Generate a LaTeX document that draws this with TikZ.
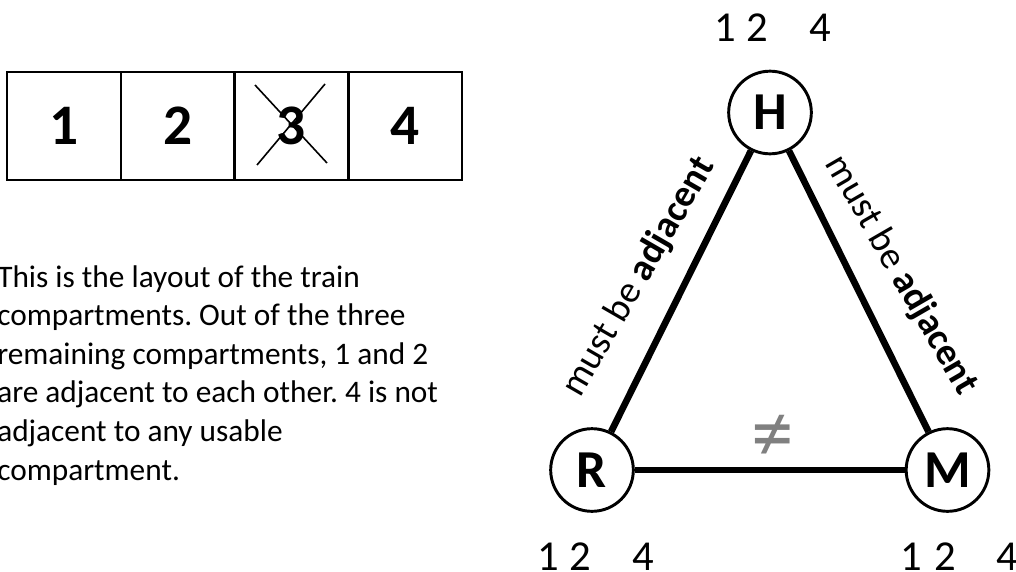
\documentclass[tikz,border=0pt]{standalone}
\usepackage{fontspec}
\setmainfont{Carlito}
\frenchspacing
\begin{document}
\begin{tikzpicture}[x=0.75pt,y=-0.75pt,
  cell/.style={draw,line width=2.2pt,minimum width=85.5pt,minimum height=81pt,inner sep=0,font=\fontsize{43}{50}\selectfont\bfseries},
  var/.style={circle,draw,line width=2.2pt,minimum size=62pt,inner sep=0,font=\fontsize{40}{46}\selectfont\bfseries},
  val/.style={inner sep=0,font=\fontsize{32}{38}\selectfont},
  edge/.style={line width=5pt},
  elab/.style={inner sep=0,font=\fontsize{28.5}{32}\selectfont}]
\useasboundingbox (0,0) rectangle (1016,571);
% compartments
\node[cell] (b1) at (64,126) {1};
\node[cell] (b2) at (178,126) {2};
\node[cell] (b3) at (291.5,126) {3};
\node[cell] (b4) at (405,126) {4};
\draw[line width=1.2pt] (255,85) -- (327,163) (325,84) -- (257,165);
% paragraph
\node[anchor=base west,inner sep=0,align=left,font=\fontsize{23.5}{28.95}\selectfont] (txt) at (-3,480)
 {This is the layout of the train\\compartments. Out of the three\\remaining compartments, 1 and 2\\are adjacent to each other. 4 is not\\adjacent to any usable\\compartment.};
% graph
\node[var] (H) at (770,112.5) {H};
\node[var] (R) at (592,470) {R};
\node[var] (M) at (947.5,470) {M};
\draw[edge] (R) -- (H);
\draw[edge] (H) -- (M);
\draw[edge] (R) -- (M);
\node[elab,rotate=60] (lr) at (639,277) {must be \textbf{adjacent}};
\node[elab,rotate=-60] (lm) at (901,275) {must be \textbf{adjacent}};
\node[inner sep=0,text=black!50,font=\fontsize{64}{68}\selectfont] (ne) at (773,438) {≠};
% values
\node[val] (h1) at (725,28) {1};
\node[val] (h2) at (757,28) {2};
\node[val] (h4) at (820,28) {4};
\node[val] (r1) at (548,557) {1};
\node[val] (r2) at (580,557) {2};
\node[val] (r4) at (643,557) {4};
\node[val] (m1) at (911,557) {1};
\node[val] (m2) at (945,557) {2};
\node[val] (m4) at (1007,557) {4};
\end{tikzpicture}
\end{document}
